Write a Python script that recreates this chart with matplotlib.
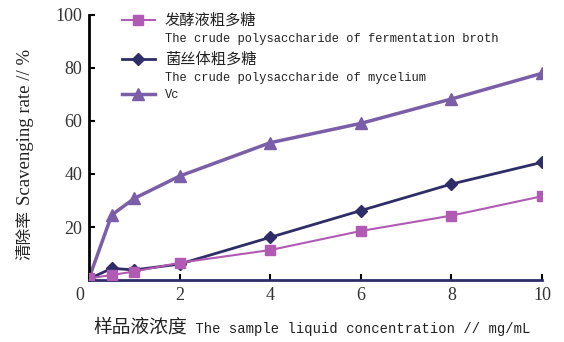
import matplotlib
matplotlib.use("Agg")
import matplotlib.pyplot as plt
from matplotlib.lines import Line2D
from matplotlib.offsetbox import TextArea, HPacker, AnchoredOffsetbox
import matplotlib.transforms as mtransforms

# Concentration (mg/mL) and scavenging rate (%) for each sample
concentration = [0, 0.5, 1, 2, 4, 6, 8, 10]
broth_rate = [0.6, 1.9, 3.2, 6.5, 11.3, 18.5, 24.3, 31.6]
mycelium_rate = [0.4, 4.4, 3.8, 6.0, 16.1, 26.2, 36.2, 44.4]
vc_rate = [0.6, 24.5, 30.8, 39.2, 51.8, 59.1, 68.3, 78.0]

x_ticks = [0, 2, 4, 6, 8, 10]
y_ticks = [20, 40, 60, 80, 100]

label_broth_cn = "发酵液粗多糖"
label_broth_en = "The crude polysaccharide of fermentation broth"
label_myc_cn = "菌丝体粗多糖"
label_myc_en = "The crude polysaccharide of mycelium"
label_vc = "Vc"

xlabel_cn = "样品液浓度"
xlabel_en = " The sample liquid concentration // mg/mL"
ylabel_cn = "清除率"
ylabel_en = "Scavenging rate // %"

c_broth = "#b15ab4"
c_myc = "#2e2d68"
c_vc = "#7b5ea8"
c_text = "#222222"

CJK = "Noto Sans CJK SC"
serif = ["Liberation Serif", CJK]

fig = plt.figure(figsize=(5.64, 3.42), dpi=100)
ax = fig.add_axes([89 / 564, 62 / 342, 453 / 564, 265 / 342])

ax.plot(concentration, broth_rate, color=c_broth, lw=1.5, marker="s",
        ms=6.5, mec=c_broth, mfc=c_broth, zorder=3)
ax.plot(concentration, mycelium_rate, color=c_myc, lw=2.0, marker="D",
        ms=5.8, mec=c_myc, mfc=c_myc, zorder=2)
ax.plot(concentration, vc_rate, color=c_vc, lw=2.5, marker="^",
        ms=8.5, mec=c_vc, mfc=c_vc, zorder=2)

ax.set_xlim(0, 10)
ax.set_ylim(0, 100)
ax.set_xticks(x_ticks)
ax.set_yticks(y_ticks)
ax.set_xticklabels([str(v) for v in x_ticks], family=serif, fontsize=13)
ax.set_yticklabels([str(v) for v in y_ticks], family=serif, fontsize=13)
ax.tick_params(axis="both", direction="in", length=4, width=1.5, colors="black",
               labelcolor="#333333")
ax.tick_params(axis="x", pad=5)
ax.tick_params(axis="y", pad=5)

# shift the origin label to the corner
lbl0 = ax.get_xticklabels()[0]
lbl0.set_transform(lbl0.get_transform() +
                   mtransforms.ScaledTranslation(-9 / 100, 0, fig.dpi_scale_trans))

for s in ("top", "right"):
    ax.spines[s].set_visible(False)
ax.spines["left"].set_linewidth(2.0)
ax.spines["left"].set_color("black")
ax.spines["bottom"].set_linewidth(2.0)
ax.spines["bottom"].set_color(c_myc)

# y label: CJK part, then the English part stacked above it
yl_cn = ax.text(-0.141, 20 / 265, ylabel_cn, rotation=90, transform=ax.transAxes,
                ha="center", va="bottom", family=CJK, fontsize=12, color=c_text)
ax.annotate(ylabel_en, xy=(0.5, 1), xycoords=yl_cn, xytext=(0, 4),
            textcoords="offset points", rotation=90, ha="center", va="bottom",
            family="Liberation Serif", fontsize=13.5, color=c_text)

# x label: wide CJK glyphs next to narrow monospaced Latin text
xl_cn = TextArea(xlabel_cn, textprops=dict(family=CJK, size=13.5, color=c_text))
xl_en = TextArea(xlabel_en, textprops=dict(family="Liberation Mono", size=10,
                                           color=c_text))
xl_box = HPacker(children=[xl_cn, xl_en], align="baseline", pad=0, sep=0)
fig.add_artist(AnchoredOffsetbox(loc="center", child=xl_box, pad=0, borderpad=0,
                                 frameon=False, bbox_to_anchor=(312 / 564, 15 / 342),
                                 bbox_transform=fig.transFigure))

blank = Line2D([], [], linestyle="none", marker=None)
h_broth = Line2D([], [], color=c_broth, lw=1.5, marker="s", ms=6.5)
h_myc = Line2D([], [], color=c_myc, lw=2.0, marker="D", ms=5.8)
h_vc = Line2D([], [], color=c_vc, lw=2.5, marker="^", ms=8.5)
leg = ax.legend([h_broth, blank, h_myc, blank, h_vc],
                [label_broth_cn, label_broth_en, label_myc_cn, label_myc_en, label_vc],
                loc="upper left", bbox_to_anchor=(0.0728, 1.014), frameon=False,
                borderpad=0, borderaxespad=0, handlelength=2.75, handletextpad=0.83,
                labelspacing=0.42, prop={"family": "Liberation Mono", "size": 8.65})
for i, t in enumerate(leg.get_texts()):
    t.set_color(c_text)
    if i in (0, 2):
        t.set_fontfamily(CJK)
        t.set_fontsize(11)

fig.savefig("out.png", dpi=100)
